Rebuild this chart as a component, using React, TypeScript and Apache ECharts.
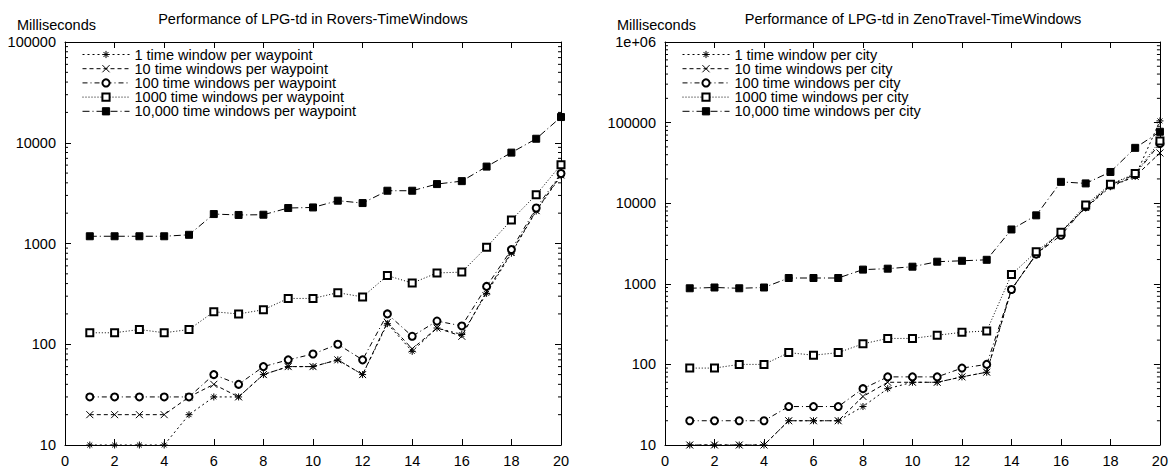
import React, { useEffect, useRef } from "react";
import * as echarts from "echarts";

// ---- data ----
const XS = [1, 2, 3, 4, 5, 6, 7, 8, 9, 10, 11, 12, 13, 14, 15, 16, 17, 18, 19, 20];
const X_TICKS = [0, 2, 4, 6, 8, 10, 12, 14, 16, 18, 20];

const ROVERS_NAMES = [
  "1 time window per waypoint",
  "10 time windows per waypoint",
  "100 time windows per waypoint",
  "1000 time windows per waypoint",
  "10,000 time windows per waypoint",
];
const ZENO_NAMES = [
  "1 time window per city",
  "10 time windows per city",
  "100 time windows per city",
  "1000 time windows per city",
  "10,000 time windows per city",
];

const rovers1 = [10, 10, 10, 10, 20, 30, 30, 50, 60, 60, 70, 50, 160, 85, 145, 125, 320, 800, 2100, 4700];
const rovers10 = [20, 20, 20, 20, 30, 40, 30, 50, 60, 60, 70, 50, 165, 90, 145, 120, 335, 820, 2120, 4800];
const rovers100 = [30, 30, 30, 30, 30, 50, 40, 60, 70, 80, 100, 70, 200, 120, 170, 152, 375, 870, 2250, 4950];
const rovers1000 = [130, 130, 140, 130, 140, 210, 200, 220, 285, 285, 325, 295, 480, 405, 510, 520, 920, 1710, 3050, 6050];
const rovers10000 = [1180, 1180, 1180, 1180, 1220, 1960, 1920, 1930, 2250, 2280, 2660, 2520, 3340, 3340, 3890, 4160, 5800, 7980, 10960, 18000];

const zeno1 = [10, 10, 10, 10, 20, 20, 20, 30, 50, 60, 60, 70, 80, 850, 2300, 4400, 8700, 16000, 21500, 105000];
const zeno10 = [10, 10, 10, 10, 20, 20, 20, 40, 60, 60, 60, 70, 80, 850, 2330, 4400, 8850, 16400, 21500, 42000];
const zeno100 = [20, 20, 20, 20, 30, 30, 30, 50, 70, 70, 70, 90, 100, 850, 2330, 4000, 9100, 16800, 22700, 55000];
const zeno1000 = [90, 90, 100, 100, 140, 130, 140, 180, 210, 210, 230, 250, 260, 1300, 2500, 4370, 9500, 17200, 23300, 59000];
const zeno10000 = [880, 900, 880, 900, 1180, 1180, 1180, 1500, 1540, 1630, 1880, 1930, 1985, 4720, 7070, 18400, 17600, 24400, 48600, 77000];

const ROVERS_DECADES = [10, 100, 1000, 10000];
const ZENO_DECADES = [10, 100, 1000, 10000, 100000];
const MINOR_MULTS = [2, 3, 4, 5, 6, 7, 8, 9];

// ---- styling ----
const FONT = "Liberation Sans, Arial, Helvetica, sans-serif";
const FS = 14.5;
const STAR = "path://M0,5L10,5M5,0L5,10M1.5,1.5L8.5,8.5M8.5,1.5L1.5,8.5";
const CROSS = "path://M0,0L10,10M10,0L0,10";
const SYMBOLS = [STAR, CROSS, "emptyCircle", "emptyRect", "rect"];
const DASHES: any[] = [[2, 3], [4, 3], [5, 3, 1, 3], [1, 2], [7, 3, 1, 3]];

function makeSeries(names: string[], vals: number[][], axis: number) {
  return names.map((name, k) => ({
    name,
    type: "line",
    xAxisIndex: axis,
    yAxisIndex: axis,
    data: XS.map((x, i) => [x, vals[k][i]]),
    symbol: SYMBOLS[k],
    symbolSize: 7,
    showSymbol: true,
    lineStyle: { color: "#000", width: 1, type: DASHES[k] },
    itemStyle: { color: "#000", borderColor: "#000", borderWidth: 1 },
    emphasis: { disabled: true },
    z: 3,
  }));
}

function minorSeries(decades: number[], axis: number) {
  const vals: number[] = [];
  decades.forEach((d) => MINOR_MULTS.forEach((m) => vals.push(d * m)));
  return {
    type: "custom",
    xAxisIndex: axis,
    yAxisIndex: axis,
    silent: true,
    data: vals.map((v) => [0, v]),
    renderItem: (params: any, api: any) => {
      const v = api.value(1);
      const p0 = api.coord([0, v]);
      const p1 = api.coord([20, v]);
      return {
        type: "group",
        children: [
          { type: "line", shape: { x1: p0[0], y1: p0[1], x2: p0[0] + 3, y2: p0[1] }, style: { stroke: "#000", lineWidth: 1 } },
          { type: "line", shape: { x1: p1[0] - 3, y1: p1[1], x2: p1[0], y2: p1[1] }, style: { stroke: "#000", lineWidth: 1 } },
        ],
      };
    },
  };
}

function xAxes(grid: number) {
  const base = {
    type: "value",
    gridIndex: grid,
    min: X_TICKS[0],
    max: X_TICKS[X_TICKS.length - 1],
    interval: 2,
    splitLine: { show: false },
    axisLine: { show: true, onZero: false, lineStyle: { color: "#000", width: 1 } },
    axisTick: { show: true, inside: true, length: 6, lineStyle: { color: "#000" } },
  };
  return [
    { ...base, position: "bottom", axisLabel: { show: true, color: "#000", fontSize: FS, fontFamily: FONT, margin: 8 } },
    { ...base, position: "top", axisLabel: { show: false } },
  ];
}

function yAxes(grid: number, max: number, split: number) {
  const base = {
    type: "log",
    logBase: 10,
    gridIndex: grid,
    min: 10,
    max,
    splitNumber: split,
    splitLine: { show: false },
    axisLine: { show: true, onZero: false, lineStyle: { color: "#000", width: 1 } },
    axisTick: { show: true, inside: true, length: 6, lineStyle: { color: "#000" } },
  };
  return [
    {
      ...base,
      position: "left",
      axisLabel: {
        show: true,
        color: "#000",
        fontSize: FS,
        fontFamily: FONT,
        margin: 9,
        formatter: (v: number) => {
          const n = Math.round(v);
          return n >= 1000000 ? "1e+06" : String(n);
        },
      },
    },
    { ...base, position: "right", axisLabel: { show: false } },
  ];
}

function legendFor(names: string[], left: number) {
  return {
    data: names.map((name, k) => ({
      name,
      lineStyle: { color: "#000", width: 1, type: DASHES[k] },
      itemStyle: { color: "#000", borderColor: "#000", borderWidth: 1 },
    })),
    orient: "vertical",
    left,
    top: 47,
    padding: 0,
    itemGap: -0.8,
    itemWidth: 47,
    itemHeight: 9,
    selectedMode: false,
    textStyle: { color: "#000", fontSize: FS, fontFamily: FONT },
  };
}

export default function App() {
  const ref = useRef<HTMLDivElement>(null);
  useEffect(() => {
    if (!ref.current) return;
    const chart = echarts.init(ref.current, undefined, { renderer: "svg" });
    const titleStyle = { color: "#000", fontSize: FS, fontWeight: "normal", fontFamily: FONT };
    chart.setOption({
      animation: false,
      backgroundColor: "#fff",
      title: [
        { text: "Performance of LPG-td in Rovers-TimeWindows", left: 313, top: 11, padding: 0, textAlign: "center", textStyle: titleStyle },
        { text: "Performance of LPG-td in ZenoTravel-TimeWindows", left: 913, top: 11, padding: 0, textAlign: "center", textStyle: titleStyle },
        { text: "Milliseconds", left: 17, top: 17, padding: 0, textStyle: titleStyle },
        { text: "Milliseconds", left: 617, top: 17, padding: 0, textStyle: titleStyle },
      ],
      grid: [
        { left: 65, top: 42, width: 496, height: 405 },
        { left: 665, top: 42, width: 496, height: 405 },
      ],
      xAxis: [...xAxes(0), ...xAxes(1)],
      yAxis: [...yAxes(0, 100000, 4), ...yAxes(1, 1000000, 5)],
      legend: [legendFor(ROVERS_NAMES, 82), legendFor(ZENO_NAMES, 682)],
      series: [
        ...makeSeries(ROVERS_NAMES, [rovers1, rovers10, rovers100, rovers1000, rovers10000], 0),
        ...makeSeries(ZENO_NAMES, [zeno1, zeno10, zeno100, zeno1000, zeno10000], 2),
        minorSeries(ROVERS_DECADES, 0),
        minorSeries(ZENO_DECADES, 2),
      ],
    });
    return () => chart.dispose();
  }, []);
  return (
    <div
      ref={ref}
      style={{ position: "absolute", left: 0, top: 0, width: 1171, height: 468, background: "#fff" }}
    />
  );
}
